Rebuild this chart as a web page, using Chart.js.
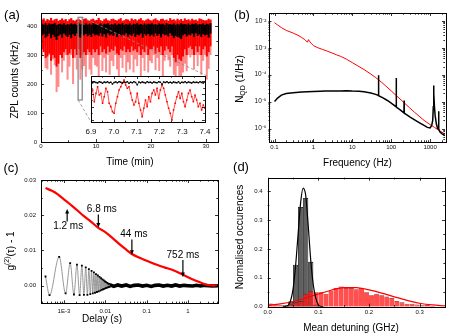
<!DOCTYPE html>
<html>
<head>
<meta charset="utf-8">
<script src="https://cdn.jsdelivr.net/npm/chart.js@4.4.1/dist/chart.umd.min.js"></script>
<style>
  body { margin: 0; background: #fff; }
  #wrap { position: relative; width: 467px; height: 335px; overflow: hidden; }
  canvas { position: absolute; }
</style>
</head>
<body>
<div id="wrap">
  <canvas id="chartA" width="230" height="170" style="left:0px;top:0px"></canvas>
  <canvas id="chartB" width="237" height="170" style="left:230px;top:0px"></canvas>
  <canvas id="chartC" width="230" height="180" style="left:0px;top:155px"></canvas>
  <canvas id="chartD" width="237" height="180" style="left:230px;top:155px"></canvas>
  <canvas id="chartInset" width="135" height="70" style="left:80px;top:70px"></canvas>
</div>
<script>
// ---------- (a) ZPL counts, 1/3 min bins ----------
const aTimeTicks = [0, 10, 20, 30];
const aCountTicks = [0, 100, 200, 300, 400];
const aBinWidth = 1 / 3; // min
const aRedTop = [422,426,418, 424,420,428, 419,423,425, 418,421,426, 420,424,417, 423,427,420, 418,422,425, 421,417,424, 426,420,418, 423,425,419, 421,428,420, 417,423,426, 420,418,424, 425,421,419, 423,427,418, 420,424,422, 418,426,421, 424,419,423, 427,420,418, 422,425,420, 419,423,426, 421,418,424, 425,420,422, 418,427,421, 423,419,425, 420,424,418, 426,421,423, 419,425,420, 422,418,426, 424,421,419, 420,425,422];
const aRedCoreLow = [320,310,290, 295,305,280, 300,290,260, 270,300,290, 310,320,300, 305,320,290, 320,300,320, 290,300,310, 300,320,310, 300,320,310, 320,300,330, 310,320,305, 330,310,320, 315,330,305, 300,320,315, 330,310,320, 310,330,315, 320,310,330, 300,320,310, 330,300,320, 320,330,305, 325,310,330, 300,315,330, 320,310,330, 290,275,300, 285,280,295, 320,300,325, 330,320,300, 330,310,330, 300,320,330, 295,310,330, 315,300,325];
const aRedSpikeLow = [300,330,255, 250,300,232, 285,265,172, 190,300,240, 280,300,215, 260,300,200, 290,250,300, 215,250,262, 225,300,250, 232,290,265, 260,215,300, 245,290,240, 300,232,280, 262,300,250, 210,290,255, 300,240,275, 250,300,240, 285,262,300, 225,290,245, 300,240,280, 272,300,248, 290,245,300, 222,280,300, 282,260,300, 232,212,262, 228,216,240, 270,244,300, 292,300,250, 300,262,300, 232,280,300, 215,252,300, 282,240,300];
const aBlackHigh = [408,405,410, 404,409,406, 407,411,404, 406,408,405, 410,404,407, 405,409,406, 408,404,410, 406,407,403, 409,405,408, 404,410,406, 407,405,409, 403,408,406, 410,404,407, 405,409,404, 408,406,410, 404,407,405, 409,403,408, 406,410,405, 407,404,409, 405,408,406, 410,405,407, 404,409,406, 408,404,410, 406,407,405, 409,404,408, 405,410,406, 407,405,409, 404,408,406, 410,405,407, 406,409,404, 408,406,410, 405,407,409];
const aBlackLow = [368,372,360, 365,374,358, 370,362,352, 366,371,360, 374,368,362, 370,358,372, 366,375,364, 360,372,368, 373,365,370, 362,374,368, 370,366,375, 364,372,360, 375,368,371, 366,374,362, 372,365,370, 368,375,363, 371,366,374, 362,370,368, 374,360,372, 367,373,365, 370,364,375, 366,372,361, 373,368,370, 364,375,367, 358,366,362, 360,355,368, 372,364,370, 368,374,362, 375,366,371, 362,372,368, 370,360,374, 366,371,364];

// inset: 6.9 - 7.4 min
const insetTicks = [6.9, 7.0, 7.1, 7.2, 7.3, 7.4];
const insetCountTicks = [100, 200, 300, 400];
const insetRed = [292,331,240,305,357,292,305,228,279,344, 318,228,202,163,150,228,279,331,357,383, 409,370,344,357,305,253,215,240,305,228, 176,124,189,253,202,279,240,305,331,292, 344,266,331,370,344,292,240,189,150,98, 176,228,279,318,266,305,240,202,253,305, 331,279,240,292,253,202,228,176,215,190];
const insetBlack = [392,388,395,390,386,396,391,384,393,389, 395,387,392,378,390,394,388,396,391,386, 393,389,395,384,392,388,396,390,372,393, 387,394,390,386,395,389,392,385,394,390, 388,396,391,376,393,389,395,387,392,386, 394,390,388,395,383,392,389,396,387,393, 390,385,394,389,392,388,395,390,386,393];

// ---------- (b) noise spectra ----------
const bFreqTicks = [0.1, 1, 10, 100, 1000];
const bNoiseTicks = [1e-6, 1e-5, 1e-4, 1e-3, 1e-2];
const bFreqRed = [0.1, 0.12, 0.15, 0.2, 0.25, 0.3, 0.4, 0.5, 0.6, 0.7, 0.75, 0.8, 0.9, 1, 1.3, 1.7, 2.2, 3, 4, 5, 7, 10, 14, 20, 30, 40, 55, 70, 100, 140, 200, 300, 400, 550, 700, 1000, 1300, 1700, 2200, 2500];
const bNoiseRed = [8.5e-3, 7.0e-3, 5.6e-3, 4.4e-3, 3.9e-3, 3.5e-3, 2.9e-3, 2.4e-3, 2.0e-3, 1.6e-3, 2.0e-3, 1.7e-3, 1.4e-3, 1.2e-3, 1.0e-3, 8.7e-4, 7.6e-4, 6.4e-4, 5.4e-4, 4.8e-4, 3.8e-4, 2.8e-4, 2.1e-4, 1.55e-4, 1.05e-4, 7.8e-5, 5.4e-5, 4.0e-5, 2.5e-5, 1.6e-5, 1.0e-5, 5.8e-6, 4.0e-6, 2.7e-6, 2.0e-6, 1.4e-6, 1.1e-6, 8.5e-7, 6.8e-7, 6.0e-7];
const bFreqBlack = [0.1, 0.12, 0.15, 0.2, 0.3, 0.5, 0.7, 1, 1.5, 2, 3, 5, 7, 10, 15, 20, 30, 40, 46, 47, 48, 60, 80, 100, 120, 134, 135, 136, 170, 213, 215, 217, 300, 400, 550, 700, 850, 1000, 1100, 1170, 1210, 1230, 1260, 1300, 1350, 1450, 1560, 1640, 1660, 1680, 1780, 2000, 2200, 2400];
const bNoiseBlack = [1.0e-5, 1.35e-5, 1.75e-5, 2.0e-5, 2.15e-5, 2.25e-5, 2.3e-5, 2.35e-5, 2.4e-5, 2.45e-5, 2.5e-5, 2.5e-5, 2.55e-5, 2.45e-5, 2.4e-5, 2.3e-5, 2.1e-5, 1.85e-5, 1.7e-5, 9.5e-5, 1.65e-5, 1.4e-5, 1.1e-5, 8.8e-6, 7.2e-6, 6.4e-6, 7.5e-5, 6.3e-6, 4.9e-6, 3.8e-6, 1.1e-5, 3.7e-6, 2.7e-6, 2.1e-6, 1.6e-6, 1.3e-6, 1.1e-6, 1.05e-6, 1.3e-6, 2.0e-6, 6.4e-6, 4.0e-5, 2.0e-5, 6.0e-6, 3.0e-6, 1.5e-6, 1.0e-6, 1.0e-6, 4.4e-6, 9.5e-7, 7.5e-7, 6.5e-7, 6.0e-7, 5.4e-7];

// ---------- (c) autocorrelation ----------
const cDelayTicks = [1e-3, 0.01, 0.1, 1];
const cG2Ticks = [0, 0.01, 0.02, 0.03];
const cDelayRed = [3.6e-4, 5e-4, 7e-4, 1e-3, 1.2e-3, 1.6e-3, 2.2e-3, 3e-3, 4.5e-3, 6.8e-3, 0.01, 0.015, 0.022, 0.03, 0.044, 0.065, 0.1, 0.15, 0.22, 0.3, 0.44, 0.6, 0.752, 1.0, 1.5, 2.2, 3.0, 5.0];
const cG2Red = [0.0277, 0.0270, 0.0260, 0.0245, 0.0238, 0.0226, 0.0212, 0.0198, 0.0182, 0.0164, 0.0152, 0.0135, 0.0118, 0.0105, 0.0090, 0.0080, 0.0071, 0.0062, 0.0055, 0.0050, 0.0044, 0.0037, 0.0031, 0.0024, 0.0015, 0.0007, 0.0002, 0.0000];
const cDelayOscMs = [0.36, 0.45, 0.77, 1.10, 1.42, 1.75, 2.07, 2.40, 2.72, 3.05, 3.37, 3.70, 4.02, 4.35, 4.67, 5.00, 5.32, 5.65, 5.97, 6.30, 6.62, 6.95, 7.27, 7.60, 7.92, 8.25, 8.57, 8.90, 9.22, 9.55, 9.87, 10.2, 10.5, 10.8, 11.2, 11.5, 11.8, 12.1, 12.4, 12.8];
const cG2Osc = [0.0026, -0.0027, 0.0082, -0.0022, 0.0064, -0.0025, 0.0060, -0.0027, 0.0057, -0.0026, 0.0052, -0.0026, 0.0047, -0.0024, 0.0042, -0.0022, 0.0038, -0.0020, 0.0033, -0.0018, 0.0029, -0.0016, 0.0025, -0.0014, 0.0021, -0.0012, 0.0018, -0.0010, 0.0015, -0.0009, 0.0012, -0.0007, 0.0010, -0.0006, 0.0008, -0.0005, 0.0006, -0.0004, 0.0005, -0.0003];
const cDelayFlat = [0.0128, 0.016, 0.02, 0.025, 0.032, 0.04, 0.05, 0.063, 0.08, 0.1, 0.13, 0.16, 0.2, 0.25, 0.32, 0.4, 0.5, 0.63, 0.8, 1, 1.3, 1.6, 2, 2.5, 3.2, 4, 5.3];
const cG2Flat = [0.0003, -0.0002, 0.0002, -0.0001, 0.0002, -0.0002, 0.0001, 0.0002, -0.0001, 0.0001, -0.0002, 0.0001, 0.0002, -0.0001, 0.0001, -0.0001, 0.0002, -0.0001, 0.0001, 0.0000, -0.0001, 0.0001, -0.0001, 0.0001, 0.0000, -0.0001, 0.0000];
const cMarkLabels = ['1.2 ms', '6.8 ms', '44 ms', '752 ms'];
const cMarkDelays = [1.2e-3, 6.8e-3, 0.044, 0.752];

// ---------- (d) detuning histograms ----------
const dDetTicks = [0, 0.1, 0.2, 0.3];
const dOccTicks = [0, 0.1, 0.2, 0.3, 0.4];
const dBinGrey = [0.035, 0.045, 0.055, 0.065, 0.075, 0.085, 0.095];
const dOccGrey = [0.003, 0.018, 0.145, 0.345, 0.376, 0.155, 0.008];
const dBinRed = [0.005,0.015,0.025,0.035,0.045,0.055,0.065,0.075,0.085,0.095,0.105,0.115,0.125,0.135,0.145,0.155,0.165,0.175,0.185,0.195,0.205,0.215,0.225,0.235,0.245,0.255,0.265,0.275,0.285,0.295,0.305,0.315,0.325,0.335,0.345];
const dOccRed = [0.011,0.008,0.005,0.005,0.008,0.015,0.020,0.045,0.055,0.050, 0.050,0.045,0.055,0.065,0.070,0.065,0.065,0.060,0.065,0.050, 0.040,0.045,0.040,0.035,0.030,0.020,0.015,0.010,0.010,0.008, 0.005,0.006,0.002,0.001,0.001];
const dFitGreyX = [0.03, 0.04, 0.045, 0.05, 0.055, 0.06, 0.065, 0.07, 0.075, 0.08, 0.085, 0.09, 0.095, 0.1, 0.105, 0.11];
const dFitGreyY = [0.000, 0.004, 0.02, 0.06, 0.14, 0.25, 0.36, 0.41, 0.385, 0.28, 0.16, 0.075, 0.03, 0.006, 0.001, 0.000];
const dFitRedX = [0, 0.025, 0.05, 0.075, 0.1, 0.125, 0.15, 0.175, 0.2, 0.225, 0.25, 0.275, 0.3, 0.325, 0.35];
const dFitRedY = [0.005, 0.010, 0.018, 0.030, 0.044, 0.057, 0.066, 0.066, 0.058, 0.047, 0.034, 0.022, 0.012, 0.006, 0.003];

// ---------- helpers ----------
const FONT = '"Liberation Sans", Arial, sans-serif';
Chart.defaults.font.family = FONT;
Chart.defaults.color = '#111';
Chart.defaults.animation = false;

const pts = (xs, ys) => xs.map((x, i) => ({x: x, y: ys[i]}));

function axis(type, min, max, tickVals, pad, size, fmt, fontSize, extra) {
  return Object.assign({
    type: type, min: min, max: max,
    grid: {display: false, drawTicks: false},
    border: {display: false},
    ticks: {font: {size: fontSize || 6}, padding: pad, autoSkip: false, maxRotation: 0, callback: fmt},
    afterBuildTicks: s => { s.ticks = tickVals.map(v => ({value: v})); },
    afterFit: s => { if (s.isHorizontal()) s.height = size; else s.width = size; }
  }, extra || {});
}

function minorVals(s) {
  const out = [];
  if (s.type === 'logarithmic') {
    for (let e = Math.floor(Math.log10(s.min)); e <= Math.ceil(Math.log10(s.max)); e++)
      for (let m = 1; m < 10; m++) {
        const v = m * Math.pow(10, e);
        if (v >= s.min * 0.9999 && v <= s.max * 1.0001) out.push([v, m === 1]);
      }
  } else {
    const maj = s.ticks.map(t => t.value);
    if (maj.length < 2) return out;
    const h = (maj[1] - maj[0]) / 2;
    let v = maj[0] - h * Math.floor((maj[0] - s.min) / h + 1e-9);
    for (; v <= s.max + 1e-9; v += h) {
      const k = (v - maj[0]) / (2 * h);
      out.push([v, Math.abs(k - Math.round(k)) < 1e-6]);
    }
  }
  return out;
}

// box frame with inward ticks on all four sides
const framePlugin = {
  id: 'frame',
  afterDatasetsDraw(chart) {
    const {ctx, chartArea: a} = chart;
    const xs = chart.scales.x, ys = chart.scales.y;
    ctx.save();
    ctx.strokeStyle = '#000';
    ctx.lineWidth = 1;
    ctx.strokeRect(Math.round(a.left) + 0.5, Math.round(a.top) + 0.5, Math.round(a.right - a.left), Math.round(a.bottom - a.top));
    ctx.lineWidth = 0.8;
    ctx.beginPath();
    minorVals(xs).forEach(([v, major]) => {
      const p = Math.round(xs.getPixelForValue(v)) + 0.5, L = major ? 3 : 1.7;
      ctx.moveTo(p, a.bottom); ctx.lineTo(p, a.bottom - L);
      ctx.moveTo(p, a.top); ctx.lineTo(p, a.top + L);
    });
    minorVals(ys).forEach(([v, major]) => {
      const p = Math.round(ys.getPixelForValue(v)) + 0.5, L = major ? 3 : 1.7;
      ctx.moveTo(a.left, p); ctx.lineTo(a.left + L, p);
      ctx.moveTo(a.right, p); ctx.lineTo(a.right - L, p);
    });
    ctx.stroke();
    ctx.restore();
  }
};

// free text items: parts = [[text, size, dy]]
function texts(items) {
  return {
    id: 'texts',
    afterDraw(chart) {
      const ctx = chart.ctx;
      items.forEach(it => {
        ctx.save();
        ctx.translate(it.x, it.y);
        if (it.rot) ctx.rotate(it.rot);
        ctx.fillStyle = '#000';
        ctx.textBaseline = 'middle';
        ctx.textAlign = 'left';
        let w = 0;
        it.parts.forEach(p => { ctx.font = p[1] + 'px ' + FONT; w += ctx.measureText(p[0]).width; });
        let x = -w / 2;
        it.parts.forEach(p => {
          ctx.font = p[1] + 'px ' + FONT;
          ctx.fillText(p[0], x, p[2] || 0);
          x += ctx.measureText(p[0]).width;
        });
        ctx.restore();
      });
    }
  };
}

const baseOpts = {
  responsive: false,
  maintainAspectRatio: false,
  animation: false,
  plugins: {legend: {display: false}, tooltip: {enabled: false}}
};

// ---------- chart (a) ----------
const aBins = aRedTop.map((_, i) => (i + 0.5) * aBinWidth);
const band = (lo, hi) => aBins.map((t, i) => ({x: t, y: [lo[i], hi[i]]}));

const zoomBoxPlugin = {
  id: 'zoomBox',
  afterDatasetsDraw(chart) {
    const {ctx} = chart;
    const x = chart.scales.x, y = chart.scales.y;
    const l = x.getPixelForValue(6.75), r = x.getPixelForValue(7.5);
    const t = y.getPixelForValue(430), b = y.getPixelForValue(145);
    ctx.save();
    ctx.strokeStyle = '#8a8a8a';
    ctx.lineWidth = 1.3;
    ctx.strokeRect(l, t, r - l, b - t);
    ctx.lineWidth = 0.8;
    ctx.setLineDash([3, 2]);
    ctx.beginPath();
    ctx.moveTo(r, t); ctx.lineTo(x.getPixelForValue(30.2), y.getPixelForValue(228));
    ctx.moveTo(l, b); ctx.lineTo(x.getPixelForValue(9.1), y.getPixelForValue(69));
    ctx.stroke();
    ctx.restore();
  }
};

new Chart(document.getElementById('chartA'), {
  type: 'bar',
  data: {datasets: [
    {data: band(aBlackLow, aBlackHigh), backgroundColor: '#000', order: 1},
    {data: band(aRedCoreLow, aRedTop), backgroundColor: '#ff0000', order: 2},
    {data: band(aRedSpikeLow, aRedTop), backgroundColor: 'rgba(255,0,0,0.45)', order: 3}
  ]},
  options: Object.assign({}, baseOpts, {
    layout: {padding: {left: 0, right: 12, top: 13, bottom: 0}, autoPadding: false},
    datasets: {bar: {grouped: false, barPercentage: 1.1, categoryPercentage: 1, borderWidth: 0}},
    scales: {
      x: axis('linear', 0, 32.2, aTimeTicks, 1, 28, v => String(v), 6, {offset: false}),
      y: axis('linear', 0, 445, aCountTicks, 4, 41, v => String(v), 6)
    }
  }),
  plugins: [framePlugin, zoomBoxPlugin, texts([
    {x: 12, y: 15, parts: [['(a)', 13]]},
    {x: 15, y: 80, rot: -Math.PI / 2, parts: [['ZPL counts (kHz)', 10]]},
    {x: 130, y: 162, parts: [['Time (min)', 10]]}
  ])]
});

// ---------- inset ----------
const insetTimes = insetRed.map((_, i) => 6.9 + i * 0.5 / (insetRed.length - 1));
const whiteBg = {
  id: 'whiteBg',
  beforeDatasetsDraw(chart) {
    const {ctx, chartArea: a} = chart;
    ctx.save(); ctx.fillStyle = '#fff';
    ctx.fillRect(a.left, a.top, a.right - a.left, a.bottom - a.top);
    ctx.restore();
  }
};
new Chart(document.getElementById('chartInset'), {
  type: 'line',
  data: {datasets: [
    {data: pts(insetTimes, insetBlack), borderColor: '#000', borderWidth: 0.7, pointStyle: 'rect', pointRadius: 1.1, pointBackgroundColor: '#000', pointBorderWidth: 0, order: 1},
    {data: pts(insetTimes, insetRed), borderColor: '#ff0000', borderWidth: 0.7, pointStyle: 'rect', pointRadius: 1.1, pointBackgroundColor: '#ff0000', pointBorderWidth: 0, order: 2}
  ]},
  options: Object.assign({}, baseOpts, {
    layout: {padding: {left: 0, right: 8, top: 6, bottom: 0}, autoPadding: false},
    scales: {
      x: axis('linear', 6.9, 7.4, insetTicks, 4.5, 17.7, v => v.toFixed(1), 8),
      y: axis('linear', 80, 440, insetCountTicks, 0, 11, () => '', 6)
    }
  }),
  plugins: [whiteBg, framePlugin]
});

// ---------- chart (b) ----------
const supDigits = {'-': '\u207B', '0': '\u2070', '1': '\u00B9', '2': '\u00B2', '3': '\u00B3', '4': '\u2074', '5': '\u2075', '6': '\u2076', '7': '\u2077', '8': '\u2078', '9': '\u2079'};
const pow10Label = v => '10' + String(Math.round(Math.log10(v))).split('').map(c => supDigits[c]).join('');

new Chart(document.getElementById('chartB'), {
  type: 'line',
  data: {datasets: [
    {data: pts(bFreqBlack, bNoiseBlack), borderColor: '#000', borderWidth: 1.5, pointRadius: 0, order: 1},
    {data: pts(bFreqRed, bNoiseRed), borderColor: '#ff0000', borderWidth: 1, pointRadius: 0, order: 2}
  ]},
  options: Object.assign({}, baseOpts, {
    layout: {padding: {left: 0, right: 22, top: 13, bottom: 0}, autoPadding: false},
    scales: {
      x: axis('logarithmic', 0.07, 2420, bFreqTicks, 2, 28, v => String(v), 6),
      y: axis('logarithmic', 3.16e-7, 1.95e-2, bNoiseTicks, 2, 38.5, pow10Label, 6.5)
    }
  }),
  plugins: [framePlugin, texts([
    {x: 12, y: 15, parts: [['(b)', 13]]},
    {x: 10, y: 79, rot: -Math.PI / 2, parts: [['N', 10], ['QD', 7, 3], [' (1/Hz)', 10]]},
    {x: 127.5, y: 163, parts: [['Frequency (Hz)', 10]]}
  ])]
});

// ---------- chart (c) ----------
// arrow geometry in data units: [tail g2, tip g2, label g2, label dx px]
const cArrowGeom = [[0.0182, 0.0218, 0.0168, 1], [0.0202, 0.0165, 0.0216, 3.5], [0.0131, 0.0088, 0.0145, 2], [0.0073, 0.0025, 0.0085, 0]];
const arrowPlugin = {
  id: 'arrows',
  afterDatasetsDraw(chart) {
    const {ctx} = chart;
    const x = chart.scales.x, y = chart.scales.y;
    ctx.save();
    ctx.strokeStyle = '#000'; ctx.fillStyle = '#000'; ctx.lineWidth = 1.2;
    cMarkDelays.forEach((d, i) => {
      const g = cArrowGeom[i];
      const px = x.getPixelForValue(d);
      const y0 = y.getPixelForValue(g[0]), y1 = y.getPixelForValue(g[1]);
      const dir = y1 > y0 ? 1 : -1;
      ctx.beginPath(); ctx.moveTo(px, y0); ctx.lineTo(px, y1 - dir * 3); ctx.stroke();
      ctx.beginPath(); ctx.moveTo(px, y1); ctx.lineTo(px - 2, y1 - dir * 4.5); ctx.lineTo(px + 2, y1 - dir * 4.5); ctx.closePath(); ctx.fill();
      ctx.font = '10px ' + FONT; ctx.textAlign = 'center'; ctx.textBaseline = 'middle';
      ctx.fillText(cMarkLabels[i], px + g[3], y.getPixelForValue(g[2]));
    });
    ctx.restore();
  }
};

new Chart(document.getElementById('chartC'), {
  type: 'line',
  data: {datasets: [
    {data: pts(cDelayRed, cG2Red), borderColor: '#ff0000', borderWidth: 2.2, pointRadius: 0, cubicInterpolationMode: 'monotone', order: 1},
    {data: pts(cDelayOscMs.map(v => v / 1000), cG2Osc), borderColor: '#8c8c8c', borderWidth: 0.9, cubicInterpolationMode: 'monotone', pointStyle: 'rect', pointRadius: 1.3, pointBackgroundColor: '#000', pointBorderWidth: 0, order: 2},
    {data: pts(cDelayFlat, cG2Flat), borderColor: '#000', borderWidth: 3.6, pointRadius: 0, order: 3}
  ]},
  options: Object.assign({}, baseOpts, {
    layout: {padding: {left: 0, right: 12, top: 25, bottom: 0}, autoPadding: false},
    scales: {
      x: axis('logarithmic', 2.8e-4, 5.3, cDelayTicks, 4, 31.7, v => (v === 0.001 ? '1E-3' : String(v)), 6),
      y: axis('linear', -0.005, 0.03, cG2Ticks, 5, 41, v => v.toFixed(2), 6)
    }
  }),
  plugins: [framePlugin, arrowPlugin, texts([
    {x: 11, y: 13, parts: [['(c)', 13]]},
    {x: 11, y: 96, rot: -Math.PI / 2, parts: [['g', 10], ['(2)', 7, -4], ['(\u03C4) - 1', 10]]},
    {x: 102, y: 164, parts: [['Delay (s)', 10]]}
  ])]
});

// ---------- chart (d) ----------
new Chart(document.getElementById('chartD'), {
  type: 'bar',
  data: {datasets: [
    {type: 'line', data: pts(dFitGreyX, dFitGreyY), borderColor: '#000', borderWidth: 1.2, pointRadius: 0, cubicInterpolationMode: 'monotone', order: 0},
    {type: 'line', data: pts(dFitRedX, dFitRedY), borderColor: '#ff0000', borderWidth: 1.2, pointRadius: 0, cubicInterpolationMode: 'monotone', order: 0},
    {data: pts(dBinRed, dOccRed), backgroundColor: 'rgba(255,20,20,0.75)', borderColor: 'rgba(120,0,0,0.85)', borderWidth: {top: 0.8, left: 0, right: 0, bottom: 0}, order: 1},
    {data: pts(dBinGrey, dOccGrey), backgroundColor: '#606060', borderColor: '#000', borderWidth: 0.8, order: 2}
  ]},
  options: Object.assign({}, baseOpts, {
    layout: {padding: {left: 0, right: 22, top: 22.7, bottom: 0}, autoPadding: false},
    datasets: {bar: {grouped: false, barPercentage: 1.02, categoryPercentage: 1}},
    scales: {
      x: axis('linear', 0, 0.35, dDetTicks, 2, 28.3, v => v.toFixed(1), 6, {offset: false}),
      y: axis('linear', 0, 0.446, dOccTicks, 5, 37.7, v => v.toFixed(1), 6)
    }
  }),
  plugins: [framePlugin, texts([
    {x: 11, y: 12, parts: [['(d)', 13]]},
    {x: 10, y: 82, rot: -Math.PI / 2, parts: [['Normalised occurences', 10]]},
    {x: 121, y: 173, parts: [['Mean detuning (GHz)', 10]]}
  ])]
});
</script>
</body>
</html>
